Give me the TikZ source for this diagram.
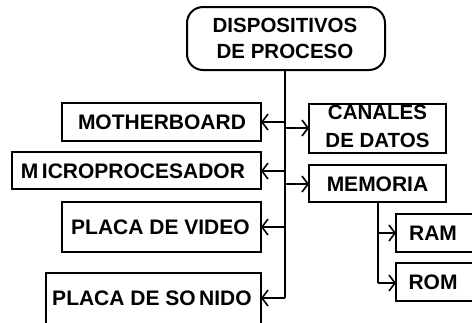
\documentclass[tikz,border=0pt]{standalone}
\usepackage{fontspec}
\setmainfont{Liberation Sans}
\usetikzlibrary{arrows.meta,positioning}

\tikzset{
  lbl/.style={font=\bfseries\fontsize{21pt}{26pt}\selectfont, inner sep=0pt, align=center},
  box/.style={draw, line width=1.3pt, rectangle, inner sep=0pt},
  thickbox/.style={box, line width=2pt},
  link/.style={line width=1.3pt, -{Straight Barb[length=6pt,width=16pt,line width=1.6pt]}},
  trunk/.style={line width=1.3pt},
}

\begin{document}
\begin{tikzpicture}[x=1pt,y=-1pt]
\useasboundingbox (0,0) rectangle (472,322);
\clip (0,0) rectangle (472,322);

% top rounded box
\draw[line width=2pt, rounded corners=16pt] (187,7) rectangle (385,70);
\node[lbl, font=\bfseries\fontsize{20.5pt}{26pt}\selectfont] (top) at (285,38.5) {DISPOSITIVOS\\DE PROCESO};
\coordinate (tb) at (285,70);

% left-hand boxes
\draw[box] (62,103) rectangle (261,141);
\node[lbl] (mb) at (162,122) {MOTHERBOARD};
\draw[box, line width=1.8pt] (12,152) rectangle (261,189);
\node[lbl] (mp) at (133,171) {M\,ICROPROCESADOR};
\draw[box] (62,202) rectangle (261,252);
\node[lbl] (pv) at (160.5,227) {PLACA DE VIDEO};
\draw[box] (46,273) rectangle (261,340);
\node[lbl] (ps) at (152,298) {PLACA DE SO\,NIDO};

% right-hand boxes
\draw[thickbox] (309,104) rectangle (446,153);
\node[lbl, font=\bfseries\fontsize{20.5pt}{28pt}\selectfont] (cd) at (377.5,126) {CANALES\\DE DATOS};
\draw[thickbox] (309,165) rectangle (446,202);
\node[lbl] (me) at (377.5,184) {MEMORIA};
\draw[box] (396,214) rectangle (490,252);
\node[lbl] (ram) at (433,233) {RAM};
\draw[box] (396,263) rectangle (490,301);
\node[lbl] (rom) at (433,282) {ROM};

% anchor points on the box edges
\coordinate (mbR) at (261,122);
\coordinate (mpR) at (261,171);
\coordinate (pvR) at (261,227);
\coordinate (psR) at (261,298);
\coordinate (cdL) at (309,128);
\coordinate (meL) at (309,184);
\coordinate (meB) at (378,202);
\coordinate (ramL) at (396,233);
\coordinate (romL) at (396,283);

% main trunk
\draw[trunk] (tb) -- (285,298);
\draw[link] (285,122) -- (mbR);
\draw[link] (285,171) -- (mpR);
\draw[link] (285,227) -- (pvR);
\draw[link] (285,298) -- (psR);
\draw[link] (285,128) -- (cdL);
\draw[link, line width=2.2pt] (285,184) -- (meL);

% memory branch
\draw[trunk] (meB) -- (378,283);
\draw[link] (378,233) -- (ramL);
\draw[link] (378,283) -- (romL);
\end{tikzpicture}
\end{document}
